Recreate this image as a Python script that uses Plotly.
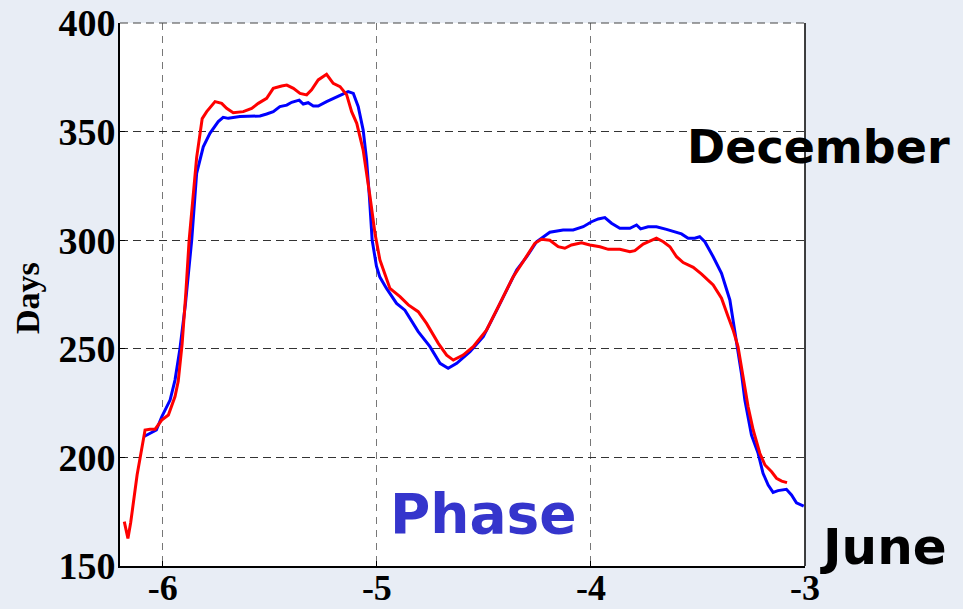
import plotly.graph_objects as go

# ---- data ----
blue_x = [-6.09, -6.03, -6.005, -5.966, -5.943, -5.92, -5.895, -5.865, -5.842, -5.811, -5.78, -5.741,
          -5.718, -5.694, -5.64, -5.546, -5.515, -5.484, -5.453, -5.421, -5.398, -5.363, -5.344, -5.321,
          -5.297, -5.274, -5.235, -5.172, -5.134, -5.11, -5.087, -5.064, -5.048, -5.035, -5.022, -5.002,
          -4.986, -4.955, -4.908, -4.869, -4.83, -4.807, -4.752, -4.705, -4.667, -4.627, -4.565, -4.503,
          -4.44, -4.394, -4.347, -4.3, -4.254, -4.192, -4.13, -4.083, -4.036, -3.997, -3.966, -3.935,
          -3.904, -3.865, -3.818, -3.787, -3.768, -3.733, -3.694, -3.647, -3.6, -3.577, -3.546, -3.515,
          -3.492, -3.468, -3.429, -3.39, -3.351, -3.328, -3.313, -3.296, -3.281, -3.25, -3.219, -3.196,
          -3.172, -3.149, -3.126, -3.087, -3.063, -3.04, -3.006]
blue_y = [209.5, 212.6, 218.7, 226.4, 235.6, 250, 270, 300, 330.8, 343, 349.2, 354.6,
          356.6, 356.1, 356.9, 357.2, 358.1, 359.2, 361.5, 362.2, 363.5, 364.5, 362.7, 363.3,
          361.8, 361.8, 363.8, 366.9, 368.4, 367.6, 361.5, 350.7, 337, 320, 300, 288,
          283, 277.8, 270.9, 267.8, 261.7, 257.9, 251, 243.3, 241, 243.3, 248.7, 255.6,
          267.8, 277.1, 286.3, 292.4, 299.3, 303.7, 304.7, 304.7, 306.2, 308.5, 309.8, 310.4,
          307.8, 305.5, 305.5, 307, 305.2, 306.2, 306.2, 305, 303.5, 302.9, 300.9, 300.9,
          301.6, 299.3, 292.4, 284.8, 272.5, 258.7, 249.5, 238, 226.4, 210.3, 201.9, 192.7,
          187.3, 183.9, 184.7, 185.3, 182.7, 179.1, 177.6]

red_x = [-6.18, -6.163, -6.15, -6.12, -6.083, -6.06, -6.036, -6.005, -5.974, -5.943, -5.928, -5.91,
         -5.893, -5.877, -5.842, -5.826, -5.816, -5.795, -5.756, -5.725, -5.702, -5.671, -5.624, -5.585,
         -5.554, -5.515, -5.484, -5.445, -5.421, -5.39, -5.359, -5.328, -5.305, -5.274, -5.235, -5.204,
         -5.172, -5.141, -5.118, -5.094, -5.064, -5.032, -5.009, -4.986, -4.939, -4.892, -4.853, -4.807,
         -4.768, -4.713, -4.674, -4.643, -4.597, -4.55, -4.488, -4.425, -4.363, -4.317, -4.262, -4.231,
         -4.192, -4.153, -4.122, -4.091, -4.044, -4.005, -3.958, -3.919, -3.865, -3.818, -3.795, -3.756,
         -3.725, -3.694, -3.662, -3.631, -3.6, -3.569, -3.522, -3.483, -3.429, -3.39, -3.359, -3.336,
         -3.313, -3.292, -3.266, -3.242, -3.211, -3.187, -3.156, -3.133, -3.109, -3.084]
red_y = [170.4, 162.7, 170, 192, 212.6, 213, 213, 217.2, 219.5, 228, 235, 252,
         275, 300, 338, 350, 356, 359.2, 363.8, 363, 360.7, 358.7, 359.2, 360.7,
         363, 365.3, 369.9, 371, 371.4, 369.9, 367.6, 366.9, 369.2, 373.8, 376.4, 372.2,
         370.7, 366.9, 359.2, 353.8, 341.5, 320, 303.2, 291, 277.8, 274, 270.2, 267.1,
         261.7, 252.5, 247.1, 244.8, 247.1, 251, 258.6, 270.9, 283.2, 290.1, 298.6, 300.4,
         300, 297, 296.3, 297.8, 298.8, 297.8, 297, 295.8, 295.8, 294.7, 295.2, 298.2,
         299.7, 300.9, 299.3, 297, 292.4, 289.7, 287.5, 284.4, 279.4, 273.3, 264.8, 258.7,
         251, 238.7, 223.4, 212.6, 201.9, 196.5, 193.4, 190.4, 189.1, 188.4]

x_ticks = [-6, -5, -4, -3]
y_ticks = [150, 200, 250, 300, 350, 400]

fig = go.Figure()
fig.add_trace(go.Scatter(x=blue_x, y=blue_y, mode="lines",
                         line=dict(color="#0000ff", width=3), showlegend=False))
fig.add_trace(go.Scatter(x=red_x, y=red_y, mode="lines",
                         line=dict(color="#ff0000", width=3), showlegend=False))

ytickfont = dict(family="Liberation Serif", size=38, color="black", weight="bold")
xtickfont = dict(family="Liberation Serif", size=36, color="black", weight="bold")

fig.update_layout(
    width=963, height=609,
    margin=dict(l=120, r=158, t=23, b=43),
    paper_bgcolor="#e8edf5",
    plot_bgcolor="white",
    showlegend=False,
    xaxis=dict(range=[-6.2, -3], tickvals=x_ticks, ticktext=[str(v) for v in x_ticks],
               tickfont=xtickfont, showgrid=True, gridcolor="#777", griddash="7px,6px", gridwidth=1.3,
               showline=True, linecolor="black", linewidth=2, ticks="inside", ticklen=5,
               tickcolor="black", zeroline=False, automargin=False, ticklabelstandoff=-11),
    yaxis=dict(range=[150, 400], tickvals=y_ticks, ticktext=[str(v) for v in y_ticks],
               tickfont=ytickfont, showgrid=True, gridcolor="#333", griddash="8px,5px", gridwidth=1,
               showline=True, linecolor="black", linewidth=2, ticks="inside", ticklen=5,
               tickcolor="black", zeroline=False, automargin=False, ticklabelstandoff=-5),
)

# dashed top edge (grid line at 400) and thin right frame line
fig.add_shape(type="line", xref="x domain", yref="y domain", x0=0, x1=1, y0=1, y1=1,
              line=dict(color="#444", width=1, dash="8px,5px"))
fig.add_shape(type="line", xref="x domain", yref="y domain", x0=1, x1=1, y0=0, y1=1,
              line=dict(color="black", width=1.5))

fig.add_annotation(text="Days", xref="paper", yref="paper", x=-0.1343, y=0.4936,
                   textangle=-90, showarrow=False, xanchor="center", yanchor="middle",
                   font=dict(family="Liberation Serif", size=34, color="black", weight="bold"))
fig.add_annotation(text="December", xref="paper", yref="paper", x=1.0204, y=0.7716,
                   showarrow=False, xanchor="center", yanchor="middle",
                   font=dict(family="DejaVu Sans", size=46, color="black", weight="bold"))
fig.add_annotation(text="June", xref="paper", yref="paper", x=1.1153, y=0.0359,
                   showarrow=False, xanchor="center", yanchor="middle",
                   font=dict(family="DejaVu Sans", size=50, color="black", weight="bold"))
fig.add_annotation(text="Phase", xref="paper", yref="paper", x=0.53, y=0.0958,
                   showarrow=False, xanchor="center", yanchor="middle",
                   font=dict(family="DejaVu Sans", size=55, color="#3535cc", weight="bold"))

fig.write_html("out.html", config={"displayModeBar": False},
               post_script="document.body.style.margin='0';document.body.style.overflow='hidden';"
                           "document.body.style.background='#e8edf5';")
